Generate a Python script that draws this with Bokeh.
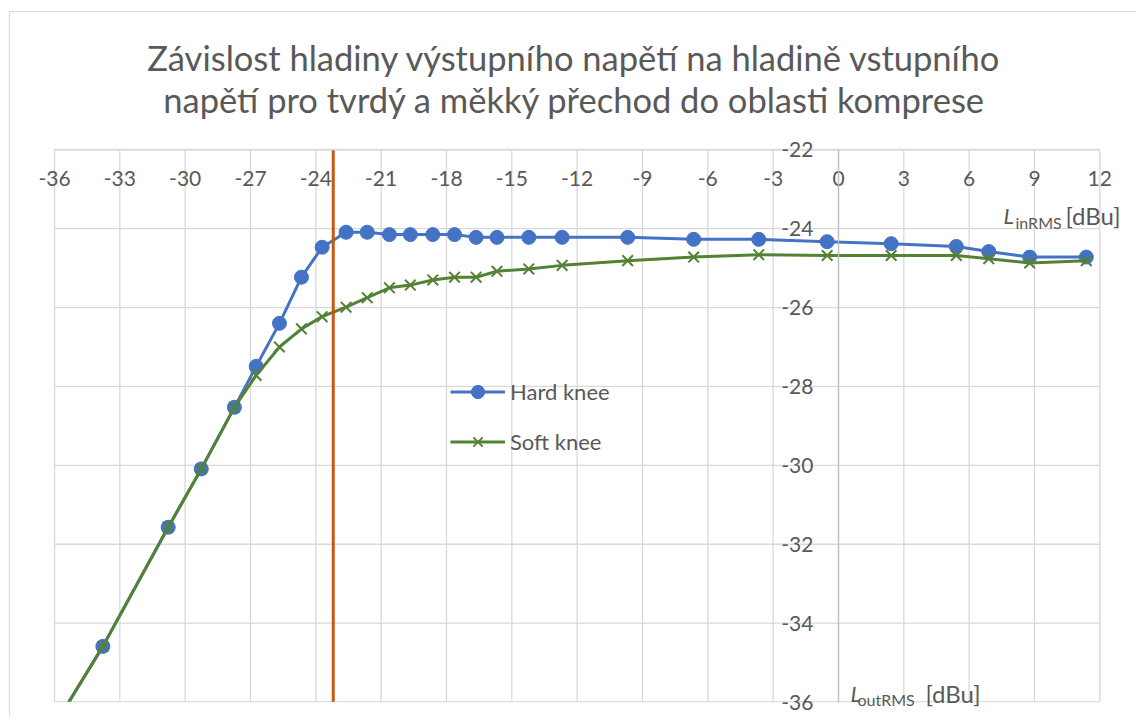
from bokeh.plotting import figure
from bokeh.models import Label, Legend, LegendItem, FixedTicker, Range1d, BoxAnnotation
from bokeh.embed import file_html
from bokeh.resources import INLINE

# ---- data ----
in_level = [-37.0, -33.78, -30.78, -29.26, -27.74, -26.74, -25.67, -24.66, -23.71,
            -22.61, -21.64, -20.62, -19.66, -18.63, -17.63, -16.64, -15.68, -14.22,
            -12.69, -9.68, -6.65, -3.66, -0.52, 2.42, 5.41, 6.90, 8.78, 11.38]
hard_out = [-37.5, -34.59, -31.57, -30.09, -28.53, -27.49, -26.40, -25.23, -24.47,
            -24.09, -24.09, -24.15, -24.15, -24.15, -24.15, -24.22, -24.22, -24.22,
            -24.22, -24.22, -24.27, -24.27, -24.33, -24.38, -24.45, -24.58, -24.72, -24.72]
soft_out = [-37.5, -34.59, -31.57, -30.09, -28.53, -27.72, -27.00, -26.54, -26.23,
            -25.99, -25.75, -25.50, -25.43, -25.30, -25.23, -25.23, -25.08, -25.02,
            -24.93, -24.81, -24.72, -24.66, -24.68, -24.68, -24.68, -24.76, -24.87, -24.81]
threshold_in = -23.2

x_ticks = [-36, -33, -30, -27, -24, -21, -18, -15, -12, -9, -6, -3, 0, 3, 6, 9, 12]
y_ticks = [-36, -34, -32, -30, -28, -26, -24, -22]
x_min, x_max = -36, 12
y_min, y_max = -36, -22

title_lines = ["Závislost hladiny výstupního napětí na hladině vstupního",
               "napětí pro tvrdý a měkký přechod do oblasti komprese"]
series_names = ["Hard knee", "Soft knee"]

FONT = "Lato"
TXT = "#595959"
GRID = "#D9D9D9"

# ---- layout (screen pixels) ----
X0, Y0 = 10, 12            # canvas origin on the page
WC, HC = 1126, 704         # canvas size (frame covers whole canvas)
PL, PR, PT, PB = 54.0, 1099.3, 149.3, 701.5   # plot-area edges on the page
KX = (PR - PL) / (x_max - x_min)
KY = (PB - PT) / (y_max - y_min)
xr0 = x_min - (PL - X0) / KX
xr1 = xr0 + WC / KX
yr1 = y_max + (PT - Y0) / KY
yr0 = yr1 - HC / KY

def px2x(px):
    return xr0 + (px - X0) / KX

def px2y(py):
    return yr1 - (py - Y0) / KY

p = figure(frame_width=WC, frame_height=HC,
           min_border_left=0, min_border_right=0, min_border_top=0, min_border_bottom=0,
           x_range=Range1d(xr0, xr1), y_range=Range1d(yr0, yr1),
           output_backend="svg", toolbar_location=None)
p.margin = (Y0 - 1, 0, 0, X0 - 1)
p.styles = {"border-left": "1px solid #D9D9D9", "border-top": "1px solid #D9D9D9"}
p.outline_line_color = None
p.grid.visible = False

# grid lines of the plot area
p.segment(x0=x_ticks, y0=[y_min] * len(x_ticks), x1=x_ticks, y1=[y_max] * len(x_ticks),
          line_color=GRID, line_width=1.3, level="underlay")
p.segment(x0=[x_min] * len(y_ticks), y0=y_ticks, x1=[x_max] * len(y_ticks), y1=y_ticks,
          line_color=GRID, line_width=1.3, level="underlay")

# axes crossing inside the plot
p.xaxis.fixed_location = y_max
p.yaxis.fixed_location = 0
p.xaxis.bounds = (x_min, x_max)
p.yaxis.bounds = (y_min, y_max)
p.xaxis.ticker = FixedTicker(ticks=x_ticks)
p.yaxis.ticker = FixedTicker(ticks=y_ticks)
p.xaxis.major_label_overrides = {t: str(t) for t in x_ticks}
p.yaxis.major_label_overrides = {t: str(t) for t in y_ticks}
for ax in (p.xaxis, p.yaxis):
    ax.major_tick_out = 0
    ax.major_tick_in = 0
    ax.minor_tick_out = 0
    ax.minor_tick_in = 0
    ax.major_label_text_font = FONT
    ax.major_label_text_font_size = "21px"
    ax.major_label_text_color = TXT
p.xaxis.axis_line_color = GRID
p.xaxis.axis_line_width = 1.3
p.yaxis.axis_line_color = "#BFBFBF"
p.yaxis.axis_line_width = 1.3
p.xaxis.major_label_standoff = 21
p.yaxis.major_label_standoff = 25

# series
hard_line = p.line(in_level, hard_out, line_color="#4472C4", line_width=3)
hard_pts = p.scatter(in_level, hard_out, marker="circle", size=14,
                     fill_color="#4472C4", line_color="#4472C4")
soft_line = p.line(in_level, soft_out, line_color="#548235", line_width=3)
soft_pts = p.scatter(in_level, soft_out, marker="x", size=15,
                     line_color="#548235", line_width=2)
p.line([threshold_in, threshold_in], [y_min, y_max], line_color="#C55A11", line_width=3)

# clip the series at the bottom of the plot area
p.add_layout(BoxAnnotation(top=y_min, fill_color="white", fill_alpha=1,
                           line_color=None, level="glyph"))
p.add_layout(BoxAnnotation(left=x_min, right=x_max, bottom=y_min, top=y_max,
                           fill_alpha=0, line_color=GRID, line_width=1.3, level="glyph"))

legend = Legend(items=[LegendItem(label=series_names[0], renderers=[hard_line, hard_pts]),
                       LegendItem(label=series_names[1], renderers=[soft_line, soft_pts])],
                location=(450 - X0, (Y0 + HC) - 457.5), orientation="vertical",
                glyph_width=55, glyph_height=33, label_height=33, spacing=17,
                padding=0, margin=0, label_standoff=5,
                border_line_color=None, background_fill_alpha=0,
                label_text_font=FONT, label_text_font_size="22px",
                label_text_color=TXT)
p.add_layout(legend, "center")

# title
for text, py in zip(title_lines, (57, 99)):
    p.add_layout(Label(x=px2x(574), y=px2y(py), text=text, text_align="center",
                       text_baseline="middle", text_font=FONT, text_font_size="34.5px",
                       text_color=TXT))

# axis titles
def axis_title(px, py, sub, sub_dx, unit_dx):
    x, y = px2x(px), px2y(py)
    p.add_layout(Label(x=x, y=y, text="L", text_font=FONT, text_font_size="22px",
                       text_font_style="italic", text_color=TXT,
                       text_baseline="alphabetic"))
    p.add_layout(Label(x=x, y=y, x_offset=sub_dx, y_offset=-6.5, text=sub,
                       text_font=FONT, text_font_size="16px", text_color=TXT,
                       text_baseline="alphabetic"))
    p.add_layout(Label(x=x, y=y, x_offset=unit_dx, text="[dBu]", text_font=FONT,
                       text_font_size="24px", text_color=TXT,
                       text_baseline="alphabetic"))

axis_title(1003, 215, "inRMS", 12, 62)
axis_title(850, 692.7, "outRMS", 7, 75)

open("out.html", "w").write(file_html(p, INLINE))
